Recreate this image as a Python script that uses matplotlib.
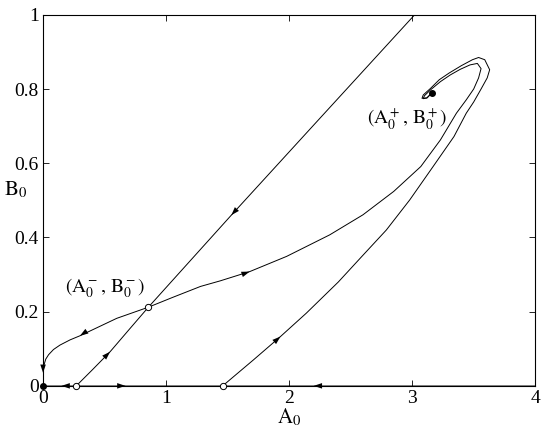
import matplotlib
matplotlib.use("Agg")
import matplotlib.pyplot as plt
import numpy as np

plt.rcParams['font.family'] = ['Liberation Serif', 'DejaVu Serif']
plt.rcParams['mathtext.fontset'] = 'stix'

# stable manifold of the saddle (upper branch, from the top edge)
stab_up_a = [3.02, 2.20, 1.53, 0.856]
stab_up_b = [1.00, 0.703, 0.460, 0.212]
# stable manifold of the saddle (lower branch, from the axis point)
stab_lo_a = [0.27, 0.40, 0.545, 0.70, 0.856]
stab_lo_b = [0.00, 0.043, 0.092, 0.152, 0.212]

# unstable manifold going to the origin
unst_l_a = [0.856, 0.599, 0.30, 0.22, 0.138, 0.085, 0.045, 0.022, 0.009, 0.003, 0.0, 0.0]
unst_l_b = [0.212, 0.182, 0.135, 0.124, 0.110, 0.098, 0.084, 0.072, 0.058, 0.045, 0.030, 0.0]

# unstable manifold going to the focus
unst_r_a = [0.856, 1.05, 1.28, 1.44, 1.68, 1.98, 2.33, 2.60, 2.85, 3.07, 3.23,
            3.36, 3.44, 3.50, 3.54, 3.56, 3.53, 3.47, 3.39, 3.31, 3.23,
            3.15, 3.10, 3.09, 3.12, 3.16]
unst_r_b = [0.212, 0.238, 0.268, 0.283, 0.308, 0.349, 0.407, 0.461, 0.524, 0.591, 0.663,
            0.735, 0.771, 0.800, 0.830, 0.855, 0.869, 0.865, 0.853, 0.838, 0.820,
            0.798, 0.782, 0.774, 0.776, 0.790]

# trajectory from the second axis point to the focus
traj_a = [1.46, 1.71, 1.93, 2.14, 2.40, 2.60, 2.79, 2.98, 3.17, 3.34, 3.44,
          3.50, 3.56, 3.61, 3.63, 3.59, 3.54, 3.49, 3.40, 3.30, 3.22, 3.15, 3.09,
          3.08, 3.12, 3.16]
traj_b = [0.0, 0.070, 0.133, 0.196, 0.280, 0.352, 0.420, 0.501, 0.591, 0.672, 0.735,
          0.765, 0.800, 0.830, 0.852, 0.879, 0.885, 0.879, 0.863, 0.843, 0.825, 0.802, 0.784,
          0.775, 0.776, 0.789]

# fixed points
filled_a = [0.0, 3.16]
filled_b = [0.0, 0.79]
open_a = [0.27, 1.46, 0.856]
open_b = [0.0, 0.0, 0.212]

# arrowheads: position and direction
arr_a = [1.53, 0.545, 0.30, 0.0, 1.68, 1.93, 0.15, 0.67, 2.20]
arr_b = [0.460, 0.092, 0.135, 0.035, 0.308, 0.133, 0.0, 0.0, 0.0]
arr_da = [-1, 1, -1, 0, 1, 1, -1, 1, -1]
arr_db = [-0.364, 0.33, -0.22, -1, 0.12, 0.29, 0, 0, 0]

fig = plt.figure(figsize=(5.45, 4.36), dpi=100)
ax = fig.add_axes([0.079, 0.115, 0.903, 0.851])
ax.set_xlim(0, 4)
ax.set_ylim(0, 1)

lw = 0.7
ax.plot([0, 4], [0, 0], color='#707070', lw=1.2, zorder=1)
ax.plot([0, 0], [0, 1], color='#707070', lw=1.2, zorder=1)
for a, b in [(stab_up_a, stab_up_b), (stab_lo_a, stab_lo_b),
             (unst_l_a, unst_l_b), (unst_r_a, unst_r_b), (traj_a, traj_b)]:
    ax.plot(a, b, color='black', lw=lw, zorder=2)

for x, y, dx, dy in zip(arr_a, arr_b, arr_da, arr_db):
    # direction in display space so the heads look the same size
    p = ax.transData.transform((x, y))
    q = ax.transData.transform((x + dx * 0.01, y + dy * 0.01))
    d = (q - p) / np.hypot(*(q - p))
    start = ax.transData.inverted().transform(p - d * 10)
    ax.annotate('', xy=(x, y), xytext=start,
                arrowprops=dict(arrowstyle='-|>,head_length=0.6,head_width=0.2',
                                color='black', lw=0, shrinkA=0, shrinkB=0),
                zorder=3)

ax.plot(filled_a, filled_b, 'o', color='black', ms=4, zorder=4, clip_on=False)
ax.plot(open_a, open_b, 'o', mfc='white', mec='black', mew=0.7, ms=4.5,
        zorder=4, clip_on=False)

ax.text(0.50, 0.262, r'$(\mathrm{A}_0^-,\,\mathrm{B}_0^-)$', fontsize=14,
        ha='center', va='center')
ax.text(2.96, 0.72, r'$(\mathrm{A}_0^+,\,\mathrm{B}_0^+)$', fontsize=14,
        ha='center', va='center')

ax.set_xticks([0, 1, 2, 3, 4])
ax.set_xticklabels(['0', '1', '2', '3', '4'])
ax.set_yticks([0, 0.2, 0.4, 0.6, 0.8, 1])
ax.set_yticklabels(['0', '0.2', '0.4', '0.6', '0.8', '1'])
ax.tick_params(direction='in', top=True, right=True, length=4, width=0.6,
               labelsize=14, pad=3)
for s in ax.spines.values():
    s.set_linewidth(0.8)

ax.set_xlabel(r'$\mathrm{A}_0$', fontsize=15, labelpad=0)
ax.set_ylabel(r'$\mathrm{B}_0$', fontsize=15, rotation=0, labelpad=2)
ax.yaxis.set_label_coords(-0.055, 0.5)

fig.savefig('out.png', dpi=100)
